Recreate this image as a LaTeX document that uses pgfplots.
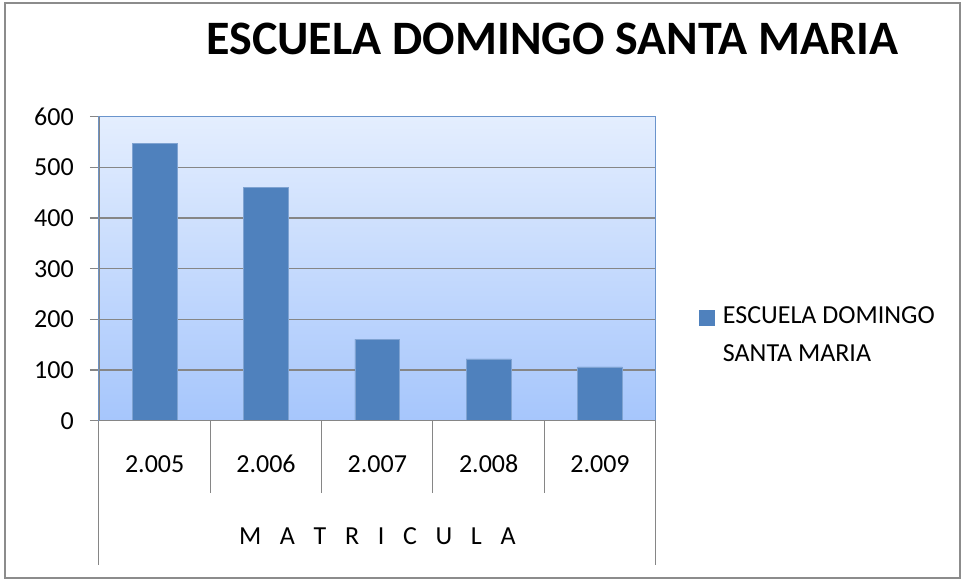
\documentclass[border=0pt]{standalone}
\usepackage{fontspec}
\setmainfont{Carlito}
\usepackage{xcolor}
\definecolor{barBlue}{HTML}{4F81BD}
\definecolor{barEdge}{HTML}{7FA3D2}
\definecolor{axGray}{HTML}{868686}
\definecolor{frameGray}{HTML}{8C8C8C}
\definecolor{axBlue}{HTML}{6A94CC}
\definecolor{bgTop}{HTML}{E4EEFE}
\definecolor{bgBottom}{HTML}{A6C6FC}
\usepackage{pgfplots}
\pgfplotsset{compat=1.18}

% 1 px of the reference = 0.75pt
\newcommand{\lsp}{\hspace{14pt}}

\begin{document}
\begin{tikzpicture}
\useasboundingbox (-74.25pt,-119.5pt) rectangle (648.75pt,315.5pt);
\draw[frameGray, line width=1.1pt] (-70.5pt,-118pt) rectangle (645.75pt,313.3pt);
\begin{axis}[
  scale only axis,
  width=417.5pt, height=228pt,
  ybar,
  bar width=0.404,
  xmin=-0.5, xmax=4.5,
  ymin=0, ymax=600,
  ytick={0,100,...,600},
  xtick={0,1,2,3,4},
  xticklabels={2.005,2.006,2.007,2.008,2.009},
  tick align=outside,
  tick pos=left,
  major tick length=6.75pt,
  major x tick style={draw=none},
  major y tick style={draw=axGray, line width=1pt},
  extra x ticks={0.5,1.5,2.5,3.5},
  extra x tick labels={},
  extra x tick style={major tick length=54pt,
    major x tick style={draw=axGray, line width=0.75pt}},
  minor xtick={-0.5,4.5},
  minor tick length=108pt,
  minor x tick style={draw=axGray, line width=0.75pt},
  ymajorgrids,
  major grid style={draw=axGray, line width=1pt},
  axis line style={draw=axBlue, line width=1pt},
  axis background/.style={top color=bgTop, bottom color=bgBottom},
  /pgf/number format/assume math mode=true,
  ticklabel style={font=\fontsize{19.5}{23}\selectfont},
  yticklabel style={anchor=east, inner sep=0pt, xshift=-12pt},
  xticklabel style={anchor=base, inner sep=0pt, yshift=-32pt},
  xlabel={M\lsp A\lsp T\lsp R\lsp I\lsp C\lsp U\lsp L\lsp A},
  xlabel style={at={(axis description cs:0.5,0)}, anchor=base,
    inner sep=0pt, yshift=-93pt, font=\fontsize{19.5}{23}\selectfont},
  title={ESCUELA DOMINGO SANTA MARIA},
  title style={at={(axis description cs:0.8144,1.1777)}, anchor=base,
    inner sep=0pt, yshift=0pt, font=\fontsize{36}{40}\selectfont\bfseries},
  legend cell align=left,
  legend style={at={(axis description cs:1.0778,0.4090)}, anchor=north west,
    draw=none, fill=none, inner sep=0pt, column sep=6pt,
    nodes={inner sep=0pt},
    font=\fontsize{19.5}{28.5}\selectfont},
]
\addplot[fill=barBlue, draw=barEdge, line width=0.5pt,
  legend image code/.code={\fill[barBlue] (0pt,-10.5pt) rectangle (11.25pt,0.75pt);}]
  coordinates {(0,548) (1,461) (2,161) (3,122) (4,106)};
\addlegendentry{\begin{tabular}[t]{@{}l@{}}ESCUELA DOMINGO\\SANTA MARIA\end{tabular}}
\draw[axGray, line width=1.5pt] (rel axis cs:0,1) -- (rel axis cs:0,0) -- (rel axis cs:1,0);
\end{axis}
\end{tikzpicture}
\end{document}
